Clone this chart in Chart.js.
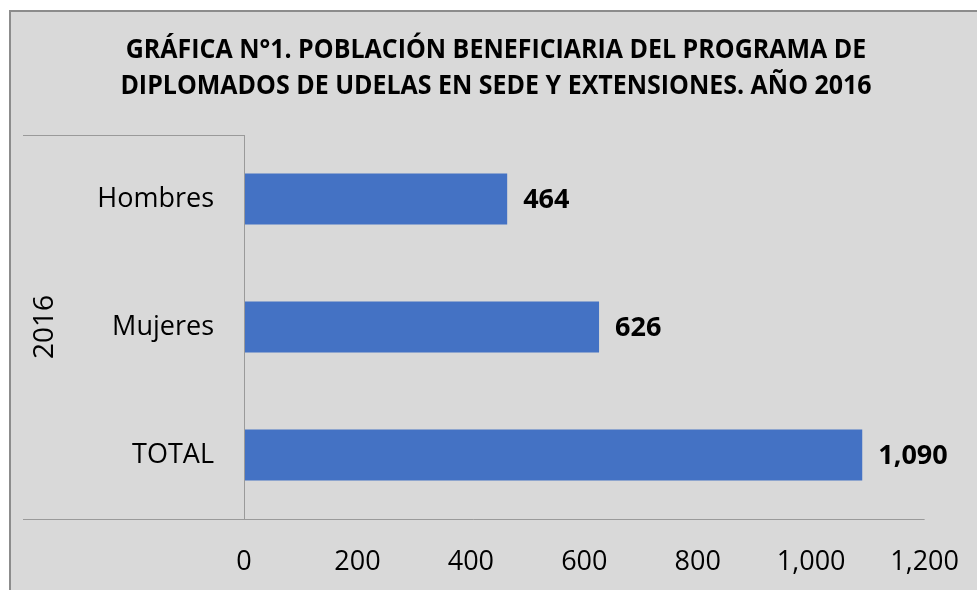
<!DOCTYPE html>
<html>
<head>
<meta charset="utf-8">
<script src="https://cdn.jsdelivr.net/npm/chart.js@4"></script>
<style>
  html, body { margin: 0; padding: 0; background: #fff; }
  #wrap { width: 977px; height: 590px; }
</style>
</head>
<body>
<div id="wrap"><canvas id="chart" width="977" height="590"></canvas></div>
<script>
// datos
const categorias = ['Hombres', 'Mujeres', 'TOTAL'];
const valores = [464, 626, 1090];
const anio = '2016';
const titulo = ['GRÁFICA N°1. POBLACIÓN BENEFICIARIA DEL PROGRAMA DE',
                'DIPLOMADOS DE UDELAS EN SEDE Y EXTENSIONES. AÑO 2016'];
const ejeMin = 0, ejeMax = 1200, ejePaso = 200;

const fmt = v => Number(v).toLocaleString('en-US');

// fondo gris y marco
const fondo = {
  id: 'fondo',
  beforeDraw(chart) {
    const ctx = chart.ctx;
    ctx.save();
    ctx.fillStyle = '#ffffff';
    ctx.fillRect(0, 0, chart.width, chart.height);
    ctx.fillStyle = '#d9d9d9';
    ctx.fillRect(10, 10, chart.width - 10, chart.height - 10);
    ctx.strokeStyle = '#8c8c8c';
    ctx.lineWidth = 2;
    ctx.beginPath();
    ctx.moveTo(10, chart.height);
    ctx.lineTo(10, 11);
    ctx.lineTo(chart.width, 11);
    ctx.stroke();
    ctx.restore();
  }
};

// título en negrita, algo condensado como Calibri
const tituloPlugin = {
  id: 'tituloPlugin',
  afterDraw(chart) {
    const ctx = chart.ctx;
    ctx.save();
    ctx.font = 'bold 27px "Open Sans"';
    ctx.fillStyle = '#000';
    ctx.textAlign = 'center';
    ctx.textBaseline = 'middle';
    ctx.translate(496, 0);
    ctx.scale(0.925, 1);
    titulo.forEach((t, i) => ctx.fillText(t, 0, 50 + i * 36));
    ctx.restore();
  }
};

// líneas del eje de categorías multinivel
const lineas = {
  id: 'lineas',
  afterDraw(chart) {
    const { ctx, chartArea: a } = chart;
    ctx.save();
    ctx.strokeStyle = '#9a9a9a';
    ctx.lineWidth = 1;
    ctx.beginPath();
    ctx.moveTo(23, a.top + 0.5);
    ctx.lineTo(Math.round(a.left) + 0.5, a.top + 0.5);
    ctx.moveTo(Math.round(a.left) + 0.5, a.top);
    ctx.lineTo(Math.round(a.left) + 0.5, a.bottom);
    ctx.moveTo(23, Math.round(a.bottom) + 0.5);
    ctx.lineTo(a.right, Math.round(a.bottom) + 0.5);
    ctx.stroke();
    ctx.restore();
  }
};

// etiquetas de valor al final de cada barra
const etiquetas = {
  id: 'etiquetas',
  afterDatasetsDraw(chart) {
    const ctx = chart.ctx;
    const meta = chart.getDatasetMeta(0);
    ctx.save();
    ctx.font = 'bold 27px "Open Sans"';
    ctx.fillStyle = '#000';
    ctx.textAlign = 'left';
    ctx.textBaseline = 'middle';
    meta.data.forEach((bar, i) => {
      ctx.fillText(fmt(chart.data.datasets[0].data[i]), bar.x + 16, bar.y + 1);
    });
    ctx.restore();
  }
};

new Chart(document.getElementById('chart'), {
  type: 'bar',
  data: {
    labels: categorias,
    datasets: [{
      data: valores,
      backgroundColor: '#4472c4',
      borderWidth: 0,
      barPercentage: 0.4,
      categoryPercentage: 1
    }]
  },
  options: {
    indexAxis: 'y',
    responsive: false,
    animation: false,
    layout: { padding: { top: 135, left: 10, right: 30, bottom: 14 } },
    plugins: {
      legend: { display: false },
      tooltip: { enabled: false },
      title: { display: false }
    },
    scales: {
      x: {
        type: 'linear',
        min: ejeMin,
        max: ejeMax,
        ticks: {
          stepSize: ejePaso,
          color: '#000',
          padding: 18,
          font: { family: '"Open Sans"', size: 27 },
          callback: v => fmt(v)
        },
        grid: { display: false, drawTicks: true, tickLength: 9 },
        border: { display: false },
        afterFit(s) { s.height = 57; }
      },
      y: {
        type: 'category',
        ticks: {
          color: '#000',
          padding: 30,
          font: { family: '"Open Sans"', size: 27 }
        },
        grid: { display: false, drawTicks: false },
        border: { display: false },
        title: {
          display: true,
          text: anio,
          color: '#000',
          font: { family: '"Open Sans"', size: 28 },
          padding: { top: 18, bottom: 0 }
        },
        afterFit(s) { s.width = 234; }
      }
    }
  },
  plugins: [fondo, lineas, etiquetas, tituloPlugin]
});
</script>
</body>
</html>
